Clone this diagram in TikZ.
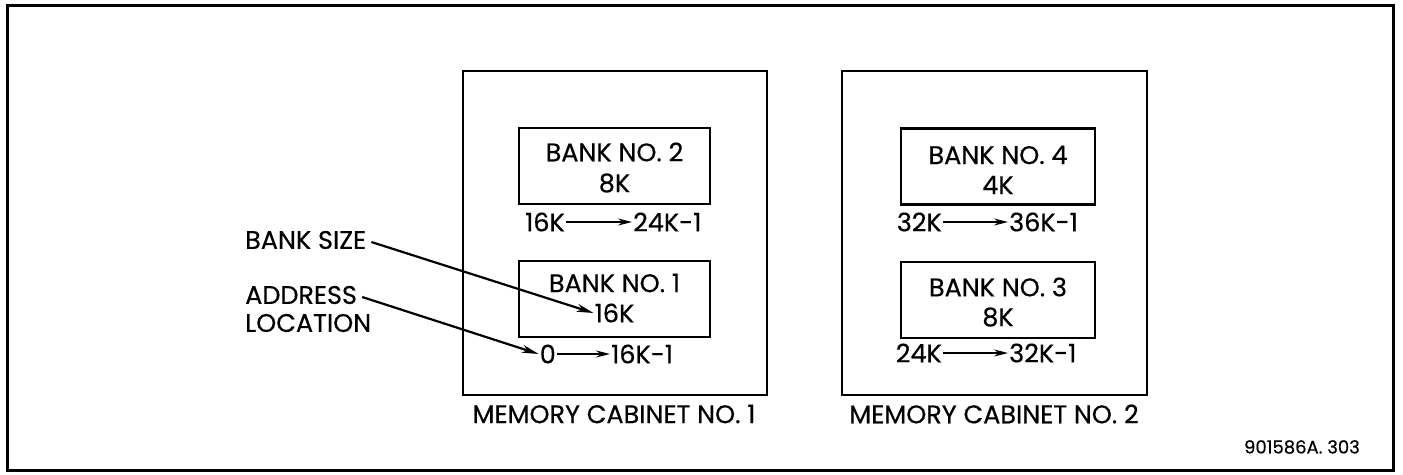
\documentclass[tikz,border=0pt]{standalone}
\usepackage{fontspec}
\setmainfont{Poppins}[FakeBold=0.4]
\usetikzlibrary{arrows.meta}
\begin{document}
\begin{tikzpicture}[x=1pt,y=-1pt,
  frame/.style={draw, line width=3pt},
  cabinet/.style={draw, line width=2.6pt, inner sep=0pt},
  bankbox/.style={draw, line width=2.6pt, minimum height=76pt, inner sep=0pt},
  lbl/.style={font=\fontsize{25.5}{30}\selectfont, inner sep=1pt},
  small/.style={font=\fontsize{18}{21}\selectfont, inner sep=1pt},
  addrarrow/.style={draw, line width=1.5pt, -{Stealth[length=14pt,width=7pt]}},
  leader/.style={draw, line width=2.2pt, -{Stealth[length=17pt,width=8pt]}},
]
\useasboundingbox (0,0) rectangle (1403,474);

% outer border
\draw[frame] (7,5) rectangle (1393,470);

% memory cabinets
\node[cabinet, minimum width=304pt, minimum height=324pt] (cab1) at (615,233) {};
\node[cabinet, minimum width=305pt, minimum height=324pt] (cab2) at (994.5,233) {};
\node[lbl] (cab1lbl) at (614,414) {MEMORY CABINET NO. 1};
\node[lbl] (cab2lbl) at (994,414) {MEMORY CABINET NO. 2};

% cabinet 1 banks
\node[bankbox, minimum width=191pt] (bank2) at (614.5,166) {};
\node[lbl] (b2name) at (614.5,152) {BANK NO. 2};
\node[lbl] (b2size) at (614.5,183) {8K};
\node[lbl, anchor=east] (r2a) at (566,222) {16K};
\node[lbl, anchor=west] (r2b) at (632,222) {24K-1};
\draw[addrarrow] (r2a.east) -- (r2b.west);

\node[bankbox, minimum width=191pt] (bank1) at (614.5,299) {};
\node[lbl] (b1name) at (614.5,283) {BANK NO. 1};
\node[lbl] (b1size) at (614.5,313) {16K};
\node[lbl, anchor=east] (r1a) at (557,354) {0};
\node[lbl, anchor=west] (r1b) at (610,354) {16K-1};
\draw[addrarrow] (r1a.east) -- (r1b.west);

% cabinet 2 banks
\node[bankbox, minimum width=194pt] (bank4) at (998,166.5) {};
\node[lbl] (b4name) at (998,155) {BANK NO. 4};
\node[lbl] (b4size) at (998,185) {4K};
\node[lbl, anchor=east] (r4a) at (943,222) {32K};
\node[lbl, anchor=west] (r4b) at (1008,222) {36K-1};
\draw[addrarrow] (r4a.east) -- (r4b.west);

\node[bankbox, minimum width=194pt] (bank3) at (998,300) {};
\node[lbl] (b3name) at (998,287) {BANK NO. 3};
\node[lbl] (b3size) at (998,317) {8K};
\node[lbl, anchor=east] (r3a) at (943,353) {24K};
\node[lbl, anchor=west] (r3b) at (1008,353) {32K-1};
\draw[addrarrow] (r3a.east) -- (r3b.west);

% callouts
\node[lbl, anchor=west] (bsize) at (244,240) {BANK SIZE};
\node[lbl, anchor=west] (addr) at (244,295) {ADDRESS};
\node[lbl, anchor=west] (loc) at (244,323) {LOCATION};
\draw[leader] (bsize.east) ++(4,2) -- (b1size.west);
\draw[leader] (addr.east) ++(4,2) -- (r1a.west);

% drawing number
\node[small, anchor=east] (code) at (1361,447) {901586A. 303};
\end{tikzpicture}
\end{document}
